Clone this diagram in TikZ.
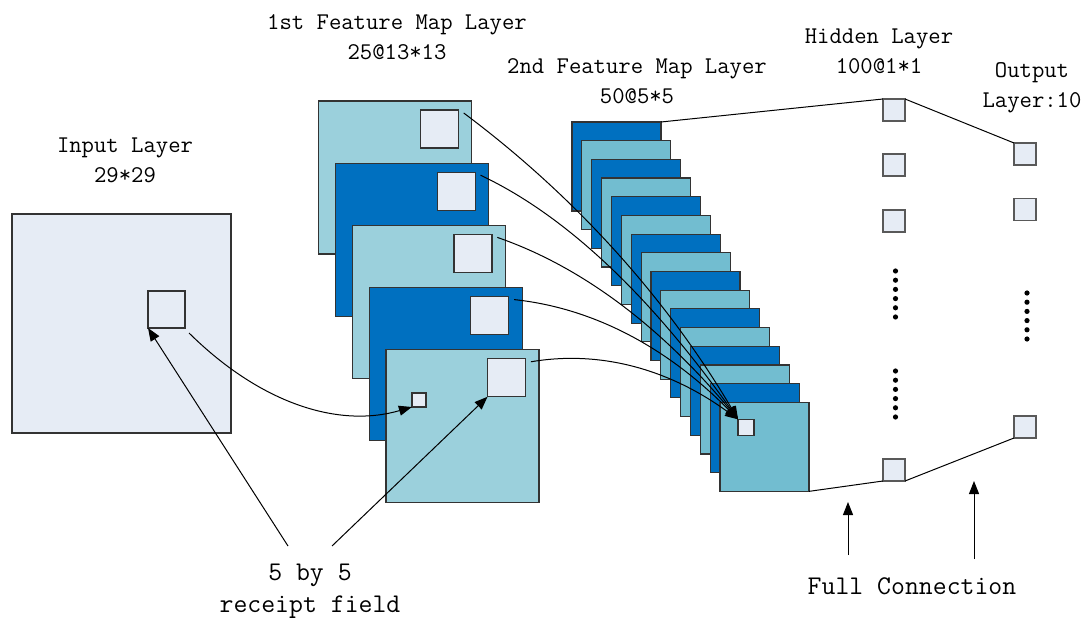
\documentclass[tikz,border=0pt]{standalone}
\usepackage{tikz}
\usetikzlibrary{arrows.meta,positioning}
\definecolor{mappale}{HTML}{E6ECF5}
\definecolor{maplite}{HTML}{9BD0DC}
\definecolor{mapdark}{HTML}{0070C0}
\definecolor{mapteal}{HTML}{72BDD0}
\tikzset{
  basic/.style   = {draw=black!80, line width=0.6pt, inner sep=0pt, outer sep=0pt, anchor=north west},
  input/.style   = {basic, fill=mappale, minimum size=109.5pt},
  patch/.style   = {basic, fill=mappale},
  map1/.style    = {basic, minimum size=76.5pt},
  map2/.style    = {basic, minimum size=44.5pt},
  unit/.style    = {basic, fill=mappale, draw=black!65, minimum size=11pt},
  title/.style   = {font=\ttfamily\fontsize{12pt}{15pt}\selectfont, align=center},
  note/.style    = {font=\ttfamily\fontsize{13.5pt}{16pt}\selectfont, align=center},
  link/.style    = {black, line width=0.5pt},
  pointer/.style = {link, -{Triangle[width=5pt,length=6.5pt]}}
}

\begin{document}
\begin{tikzpicture}[x=0.5pt,y=-0.5pt]
\useasboundingbox (0,0) rectangle (1091,624);

% input layer
\node[input] (in) at (12,214) {};
\node[patch, minimum size=18.5pt, below right=38.5pt and 68pt of in.north west] (ip) {};
\node[title] (in-t) at (125,160) {Input Layer\\29*29};

% 1st feature map layer
\foreach \i [evaluate=\i as \fx using 318.7+16.8*(\i-1),
             evaluate=\i as \fy using 101+62.2*(\i-1)] in {1,...,5} {
  \ifodd\i \def\shade{maplite}\else \def\shade{mapdark}\fi
  \node[map1, fill=\shade] (f\i) at (\fx,\fy) {};
  \node[patch, minimum size=19pt, below left=4.5pt and 6.7pt of f\i.north east] (p\i) {};
  \coordinate[below left=6pt and 4pt of f\i.north east] (s\i);
}
\node[patch, minimum size=7pt, below right=21.6pt and 13pt of f5.north west] (fs) {};
\node[title] (f-t) at (397,37) {1st Feature Map Layer\\25@13*13};

% 2nd feature map layer
\foreach \k [evaluate=\k as \gx using 572+9.87*\k,
             evaluate=\k as \gy using 122+18.69*\k] in {0,...,15} {
  \ifodd\k \def\shade{mapteal}\else \def\shade{mapdark}\fi
  \node[map2, fill=\shade] (g\k) at (\gx,\gy) {};
}
\node[patch, minimum size=8pt, below right=8.5pt and 9pt of g15.north west] (q) {};
\node[title] (g-t) at (637,81) {2nd Feature Map Layer\\50@5*5};

% hidden layer
\node[unit] (h1) at (883,99) {};
\node[unit, below=16.5pt of h1] (h2) {};
\node[unit, below=17pt of h2] (h3) {};
\node[unit] (h4) at (883,459) {};
\foreach \y in {0,...,5} {
  \fill (895.5,271+9.2*\y) circle (1.3pt);
  \fill (895.5,371+9.2*\y) circle (1.3pt);
}
\node[title] (h-t) at (879,51) {Hidden Layer\\100@1*1};

% output layer
\node[unit] (o1) at (1014,143) {};
\node[unit, below=16.75pt of o1] (o2) {};
\node[unit] (o3) at (1014,416) {};
\foreach \y in {0,...,5}
  \fill (1027,293+9.2*\y) circle (1.3pt);
\node[title] (o-t) at (1032,88) {Output\\Layer:10};

% convolution links
\draw[pointer] (ip.south east) ++(4,5) coordinate (u)
  (u) .. controls (262,405) and (340,428) .. (fs.south west);
\foreach \i/\ca/\cb in {1/{576,197}/{667,299}, 2/{567,216}/{651,297},
                        3/{583,267}/{662,328}, 4/{594,308}/{668,348},
                        5/{600,350}/{669,369}}
  \draw[pointer] (s\i) .. controls (\ca) and (\cb) .. (q.north west);

% full connection
\draw[link] (g0.north east) -- (h1.north west);
\draw[link] (h1.north east) -- (o1.north west);
\draw[link] (g15.south east) -- (h4.south west);
\draw[link] (h4.south east) -- (o3.south west);

% labels below
\node[note] (rf) at (310,591) {5 by 5\\receipt field};
\coordinate (rl) at (288,546);
\coordinate (rr) at (332,546);
\draw[pointer] (rl) -- (ip.south west);
\draw[pointer] (rr) -- (p5.south west);

\node[note] (fc) at (912,586) {Full Connection};
\coordinate (fa) at (848,555);
\coordinate (fa') at (848,502);
\coordinate (fb) at (974,559);
\coordinate (fb') at (974,481);
\draw[pointer] (fa) -- (fa');
\draw[pointer] (fb) -- (fb');
\end{tikzpicture}
\end{document}
